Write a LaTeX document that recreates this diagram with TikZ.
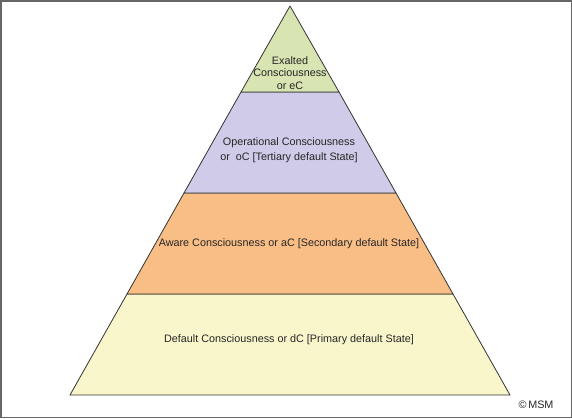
\documentclass[tikz,border=0pt]{standalone}
\usepackage{fontspec}
\setmainfont{Liberation Sans}
\usetikzlibrary{positioning}
\definecolor{lvlexalt}{HTML}{D8E4B2}
\definecolor{lvloper}{HTML}{CFCBE8}
\definecolor{lvlaware}{HTML}{F9BE86}
\definecolor{lvldefault}{HTML}{FAF6CB}
\begin{document}
\begin{tikzpicture}[x=1pt, y=-1pt,
  layer/.style={draw=black!80, line width=0.8pt, line join=round},
  lbl/.style={font=\fontsize{10.8}{12.5}\selectfont, align=center, text=black!85}]
\useasboundingbox (0,0) rectangle (572,418);
\draw[black!60, line width=1.5pt] (0.75,0.75) rectangle (571.25,417.25);
% pyramid corners
\coordinate (apex) at (290,6);
\coordinate (eL) at (241,92);
\coordinate (eR) at (339,92);
\coordinate (oL) at (184,193);
\coordinate (oR) at (396,193);
\coordinate (aL) at (127,294);
\coordinate (aR) at (453,294);
\coordinate (dL) at (70,395);
\coordinate (dR) at (510,395);
% layers
\filldraw[layer, fill=lvldefault] (aL) -- (aR) -- (dR) -- (dL) -- cycle;
\filldraw[layer, fill=lvlaware] (oL) -- (oR) -- (aR) -- (aL) -- cycle;
\filldraw[layer, fill=lvloper] (eL) -- (eR) -- (oR) -- (oL) -- cycle;
\filldraw[layer, fill=lvlexalt] (apex) -- (eR) -- (eL) -- cycle;
% labels
\node[lbl] (exalted) at (290,73) {Exalted\\Consciousness\\or eC};
\node[lbl, font=\fontsize{10.8}{15}\selectfont] (oper) at (289,150) {Operational Consciousness\\or \ oC [Tertiary default State]};
\node[lbl] (aware) at (289,244) {Aware Consciousness or aC [Secondary default State]};
\node[lbl] (default) at (289,340) {Default Consciousness or dC [Primary default State]};
\node[lbl, anchor=east] (copy) at (557,405) {\textcopyright\,MSM};
\end{tikzpicture}
\end{document}
